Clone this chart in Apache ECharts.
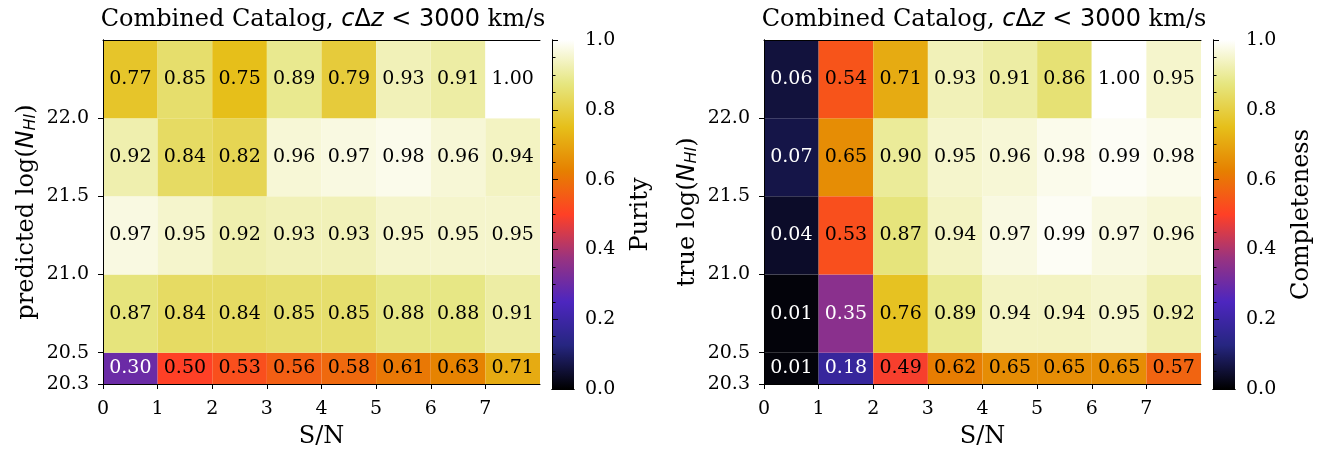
<!DOCTYPE html>
<html>
<head>
<meta charset="utf-8">
<script src="https://cdn.jsdelivr.net/npm/echarts@6/dist/echarts.min.js"></script>
<style>
  html, body { margin: 0; padding: 0; background: #fff; }
  #main { width: 1335px; height: 454px; }
</style>
</head>
<body>
<div id="main"></div>
<script>
// bin edges
var xEdges = [0, 1, 2, 3, 4, 5, 6, 7, 8];
var yEdges = [20.3, 20.5, 21.0, 21.5, 22.0, 22.5];
var xTicks = [0, 1, 2, 3, 4, 5, 6, 7];
var yTicks = [20.3, 20.5, 21.0, 21.5, 22.0];

// rows go from the lowest log(N_HI) bin upward
var purity = [
    [0.30, 0.50, 0.53, 0.56, 0.58, 0.61, 0.63, 0.71],
    [0.87, 0.84, 0.84, 0.85, 0.85, 0.88, 0.88, 0.91],
    [0.97, 0.95, 0.92, 0.93, 0.93, 0.95, 0.95, 0.95],
    [0.92, 0.84, 0.82, 0.96, 0.97, 0.98, 0.96, 0.94],
    [0.77, 0.85, 0.75, 0.89, 0.79, 0.93, 0.91, 1.00]
];
var completeness = [
    [0.01, 0.18, 0.49, 0.62, 0.65, 0.65, 0.65, 0.57],
    [0.01, 0.35, 0.76, 0.89, 0.94, 0.94, 0.95, 0.92],
    [0.04, 0.53, 0.87, 0.94, 0.97, 0.99, 0.97, 0.96],
    [0.07, 0.65, 0.90, 0.95, 0.96, 0.98, 0.99, 0.98],
    [0.06, 0.54, 0.71, 0.93, 0.91, 0.86, 1.00, 0.95]
];

// matplotlib CMRmap
var cmap = ['#000000', '#262680', '#4d26bf', '#993380', '#ff4026',
            '#e68000', '#e6bf1a', '#e6e680', '#ffffff'];

var SERIF = 'DejaVu Serif';
var SANS = 'DejaVu Sans';

function toCells(rows) {
    var out = [];
    rows.forEach(function (row, j) {
        row.forEach(function (v, i) {
            out.push([xEdges[i], xEdges[i + 1], yEdges[j], yEdges[j + 1], v]);
        });
    });
    return out;
}

function renderCell(params, api) {
    var p0 = api.coord([api.value(0), api.value(3)]);
    var p1 = api.coord([api.value(1), api.value(2)]);
    var v = api.value(4);
    return {
        type: 'group',
        children: [{
            type: 'rect',
            shape: { x: p0[0], y: p0[1], width: p1[0] - p0[0], height: p1[1] - p0[1] },
            style: { fill: api.visual('color') }
        }, {
            type: 'text',
            z2: 10,
            style: {
                text: v.toFixed(2),
                x: (p0[0] + p1[0]) / 2,
                y: (p0[1] + p1[1]) / 2,
                align: 'center',
                verticalAlign: 'middle',
                fill: v < 0.4 ? '#ffffff' : '#000000',
                font: '19px "' + SERIF + '"'
            }
        }]
    };
}

function renderBar(params, api) {
    var p0 = api.coord([0, 1]);
    var p1 = api.coord([1, 0]);
    var stops = cmap.map(function (c, k) {
        return { offset: k / (cmap.length - 1), color: c };
    });
    return {
        type: 'rect',
        shape: { x: p0[0], y: p0[1], width: p1[0] - p0[0], height: p1[1] - p0[1] },
        style: { fill: new echarts.graphic.LinearGradient(0, 1, 0, 0, stops) }
    };
}

var lineOnly = {
    axisLine: { show: true, lineStyle: { color: '#000', width: 1 } },
    axisTick: { show: false },
    axisLabel: { show: false },
    splitLine: { show: false }
};

function frameAxis(extra) {
    return Object.assign({ type: 'value', z: 10 }, lineOnly, extra);
}

var tickFont = { fontFamily: SERIF, fontSize: 19, color: '#000' };

function heatX(grid) {
    return {
        type: 'value', gridIndex: grid, min: 0, max: 8, z: 10,
        position: 'bottom',
        name: 'S/N', nameLocation: 'middle', nameGap: 41,
        nameTextStyle: { fontFamily: SERIF, fontSize: 24, color: '#000' },
        axisLine: { show: true, lineStyle: { color: '#000', width: 1 } },
        axisTick: { show: true, length: 5, customValues: xTicks, lineStyle: { color: '#000' } },
        axisLabel: Object.assign({ customValues: xTicks, margin: 16 }, tickFont),
        splitLine: { show: false }
    };
}

function heatY(grid, label) {
    return {
        type: 'value', gridIndex: grid, min: 20.3, max: 22.5, z: 10,
        position: 'left',
        name: label + ' log({n|N}{s|HI})', nameLocation: 'middle', nameGap: 64, nameRotate: 90,
        nameTextStyle: {
            fontFamily: SERIF, fontSize: 24, color: '#000',
            rich: {
                n: { fontFamily: SANS, fontStyle: 'italic', fontSize: 24, color: '#000' },
                s: { fontFamily: SANS, fontStyle: 'italic', fontSize: 16, color: '#000',
                     verticalAlign: 'bottom', lineHeight: 16 }
            }
        },
        axisLine: { show: true, lineStyle: { color: '#000', width: 1 } },
        axisTick: { show: true, length: 5, customValues: yTicks, lineStyle: { color: '#000' } },
        axisLabel: Object.assign({
            customValues: yTicks, margin: 14,
            formatter: function (v) { return v.toFixed(1); }
        }, tickFont),
        splitLine: { show: false }
    };
}

function barY(grid, label, gap) {
    return {
        type: 'value', gridIndex: grid, min: 0, max: 1, interval: 0.2, z: 10,
        position: 'right',
        name: label, nameLocation: 'middle', nameGap: gap, nameRotate: 90,
        nameTextStyle: { fontFamily: SERIF, fontSize: 24, color: '#000' },
        axisLine: { show: true, lineStyle: { color: '#000', width: 1 } },
        axisTick: { show: true, length: 6, lineStyle: { color: '#000' } },
        minorTick: { show: true, splitNumber: 4, length: 3.5, lineStyle: { color: '#000' } },
        axisLabel: Object.assign({
            margin: 11,
            formatter: function (v) { return v.toFixed(1); }
        }, tickFont),
        splitLine: { show: false },
        minorSplitLine: { show: false }
    };
}

function titleAt(cx) {
    return {
        left: cx, top: 8, textAlign: 'center', padding: 0,
        text: '{a|Combined Catalog, }{m|c}{u|Δ}{m|z}{u| < 3000}{a| km/s}',
        textStyle: {
            fontFamily: SERIF, fontSize: 24, fontWeight: 'normal', color: '#000',
            rich: {
                a: { fontFamily: SERIF, fontSize: 24, color: '#000' },
                m: { fontFamily: SANS, fontStyle: 'italic', fontSize: 24, color: '#000' },
                u: { fontFamily: SANS, fontSize: 24, color: '#000' }
            }
        }
    };
}

var chart = echarts.init(document.getElementById('main'));
chart.setOption({
    backgroundColor: '#fff',
    animation: false,
    title: [titleAt(323), titleAt(984)],
    grid: [
        { left: 103, top: 40, width: 437, height: 349 },
        { left: 552, top: 40, width: 22, height: 349 },
        { left: 764, top: 40, width: 437, height: 349 },
        { left: 1213, top: 40, width: 22, height: 349 }
    ],
    xAxis: [
        heatX(0),
        frameAxis({ gridIndex: 0, min: 0, max: 8, position: 'top' }),
        frameAxis({ gridIndex: 1, min: 0, max: 1, position: 'bottom' }),
        frameAxis({ gridIndex: 1, min: 0, max: 1, position: 'top' }),
        heatX(2),
        frameAxis({ gridIndex: 2, min: 0, max: 8, position: 'top' }),
        frameAxis({ gridIndex: 3, min: 0, max: 1, position: 'bottom' }),
        frameAxis({ gridIndex: 3, min: 0, max: 1, position: 'top' })
    ],
    yAxis: [
        heatY(0, 'predicted'),
        frameAxis({ gridIndex: 0, min: 20.3, max: 22.5, position: 'right' }),
        frameAxis({ gridIndex: 1, min: 0, max: 1, position: 'left' }),
        barY(1, 'Purity', 55),
        heatY(2, 'true'),
        frameAxis({ gridIndex: 2, min: 20.3, max: 22.5, position: 'right' }),
        frameAxis({ gridIndex: 3, min: 0, max: 1, position: 'left' }),
        barY(3, 'Completeness', 55)
    ],
    visualMap: {
        show: false, type: 'continuous', seriesIndex: [0, 2], dimension: 4,
        min: 0, max: 1, inRange: { color: cmap }
    },
    series: [
        {
            type: 'custom', xAxisIndex: 0, yAxisIndex: 0,
            renderItem: renderCell, encode: { x: [0, 1], y: [2, 3] },
            data: toCells(purity)
        },
        {
            type: 'custom', xAxisIndex: 2, yAxisIndex: 3,
            renderItem: renderBar, encode: { x: 0, y: 1 },
            data: [[0, 0]]
        },
        {
            type: 'custom', xAxisIndex: 4, yAxisIndex: 4,
            renderItem: renderCell, encode: { x: [0, 1], y: [2, 3] },
            data: toCells(completeness)
        },
        {
            type: 'custom', xAxisIndex: 6, yAxisIndex: 7,
            renderItem: renderBar, encode: { x: 0, y: 1 },
            data: [[0, 0]]
        }
    ]
});
</script>
</body>
</html>
